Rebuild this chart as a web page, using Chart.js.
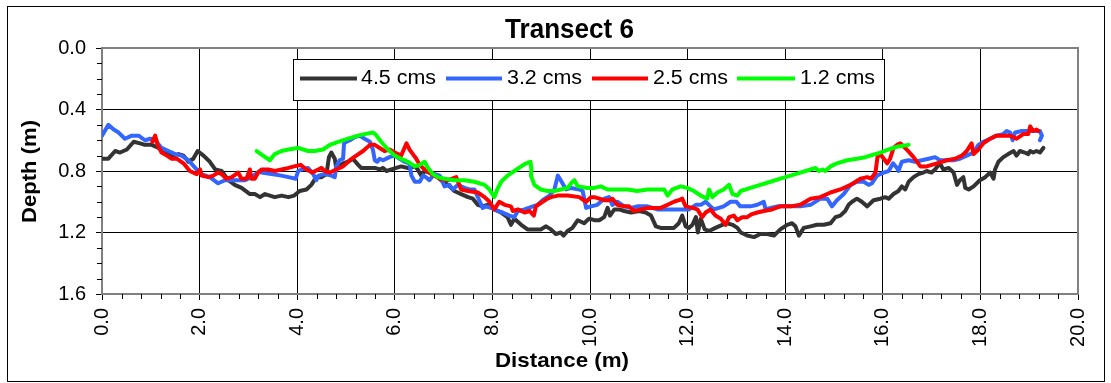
<!DOCTYPE html>
<html><head><meta charset="utf-8">
<script src="https://cdn.jsdelivr.net/npm/chart.js@4.4.1/dist/chart.umd.min.js"></script>
<style>html,body{margin:0;padding:0;background:#fff;}canvas{display:block;}</style>
</head><body>
<canvas id="c" width="1111" height="383"></canvas>
<script>
const chartTitle = 'Transect 6';
const xAxisTitle = 'Distance (m)';
const yAxisTitle = 'Depth (m)';
const seriesNames = ['4.5 cms', '3.2 cms', '2.5 cms', '1.2 cms'];
const seriesColors = ['#333333', '#3366FF', '#FF0000', '#00FF00'];

const dist45 = [
0.00,0.13,0.27,0.37,0.51,0.65,0.78,0.88,1.02,1.16,
1.29,1.43,1.57,1.67,1.77,1.87,1.96,2.08,2.21,2.32,
2.45,2.59,2.72,2.86,3.03,3.13,3.24,3.34,3.44,3.54,
3.68,3.82,3.94,4.05,4.19,4.29,4.39,4.50,4.60,4.65,
4.70,4.77,4.80,4.87,4.94,5.04,5.14,5.25,5.31,5.45,
5.59,5.69,5.76,5.83,5.93,6.03,6.13,6.27,6.41,6.47,
6.54,6.61,6.71,6.81,6.95,7.09,7.22,7.36,7.50,7.60,
7.70,7.80,7.90,8.04,8.18,8.31,8.38,8.45,8.59,8.72,
8.86,8.99,9.10,9.20,9.30,9.40,9.46,9.54,9.64,9.75,
9.88,9.98,10.09,10.19,10.29,10.36,10.41,10.50,10.60,10.70,
10.84,11.01,11.14,11.25,11.35,11.45,11.59,11.72,11.82,11.89,
11.96,12.03,12.10,12.17,12.21,12.27,12.35,12.44,12.57,12.71,
12.81,12.92,13.02,13.09,13.22,13.36,13.49,13.63,13.77,13.90,
14.04,14.14,14.21,14.28,14.38,14.52,14.65,14.79,14.93,15.03,
15.13,15.23,15.30,15.37,15.47,15.57,15.68,15.81,15.95,16.05,
16.12,16.22,16.32,16.39,16.46,16.53,16.63,16.73,16.83,16.90,
17.00,17.07,17.17,17.24,17.35,17.45,17.52,17.58,17.65,17.69,
17.76,17.86,17.99,18.10,18.20,18.27,18.30,18.37,18.47,18.57,
18.68,18.74,18.81,18.91,18.98,19.02,19.08,19.15,19.22,19.29];
const depth45 = [
0.72,0.72,0.67,0.68,0.66,0.61,0.62,0.63,0.63,0.65,
0.67,0.70,0.69,0.70,0.74,0.72,0.67,0.70,0.74,0.79,
0.80,0.86,0.89,0.91,0.95,0.95,0.97,0.95,0.96,0.97,
0.96,0.97,0.96,0.93,0.92,0.89,0.84,0.84,0.82,0.71,
0.68,0.72,0.78,0.77,0.75,0.74,0.72,0.76,0.78,0.78,
0.78,0.79,0.78,0.80,0.79,0.78,0.77,0.78,0.77,0.79,
0.83,0.80,0.81,0.82,0.86,0.89,0.93,0.95,0.97,0.98,
1.02,1.03,1.02,1.05,1.07,1.10,1.15,1.11,1.15,1.18,
1.18,1.18,1.16,1.18,1.21,1.20,1.22,1.19,1.17,1.12,
1.14,1.11,1.12,1.12,1.10,1.04,1.09,1.05,1.05,1.06,
1.07,1.06,1.07,1.09,1.16,1.17,1.17,1.17,1.14,1.09,
1.16,1.17,1.15,1.10,1.20,1.11,1.18,1.19,1.17,1.15,
1.14,1.15,1.17,1.20,1.22,1.23,1.21,1.21,1.22,1.18,
1.15,1.14,1.16,1.22,1.17,1.16,1.15,1.15,1.14,1.10,
1.09,1.06,1.02,1.00,0.98,1.00,1.03,0.99,0.98,0.97,
0.98,0.95,0.93,0.90,0.92,0.87,0.84,0.82,0.81,0.80,
0.81,0.79,0.75,0.79,0.78,0.81,0.89,0.86,0.84,0.91,
0.92,0.90,0.86,0.84,0.81,0.85,0.79,0.74,0.71,0.69,
0.67,0.70,0.67,0.68,0.69,0.67,0.68,0.67,0.68,0.65];

const dist32 = [
0.00,0.13,0.24,0.34,0.47,0.61,0.75,0.88,0.99,1.09,
1.22,1.36,1.50,1.63,1.77,1.91,2.04,2.21,2.38,2.52,
2.72,2.93,3.06,3.24,3.27,3.47,3.68,3.82,3.97,4.02,
4.09,4.22,4.33,4.39,4.44,4.56,4.70,4.77,4.80,4.87,
4.94,4.96,5.01,5.08,5.18,5.28,5.38,5.49,5.55,5.59,
5.64,5.69,5.76,5.89,6.00,6.10,6.20,6.30,6.34,6.41,
6.51,6.58,6.64,6.71,6.81,6.92,7.02,7.12,7.19,7.29,
7.43,7.53,7.63,7.73,7.80,7.87,7.97,8.11,8.21,8.35,
8.45,8.52,8.66,8.83,8.93,9.03,9.17,9.27,9.34,9.40,
9.51,9.61,9.78,9.85,9.92,10.02,10.15,10.29,10.39,10.46,
10.56,10.70,10.84,10.97,11.18,11.38,11.59,11.79,12.03,12.17,
12.27,12.37,12.47,12.54,12.64,12.74,12.88,13.00,13.08,13.29,
13.43,13.56,13.60,13.70,13.84,13.97,14.14,14.31,14.52,14.72,
14.86,14.96,15.06,15.20,15.34,15.47,15.61,15.71,15.78,15.88,
16.02,16.12,16.21,16.29,16.32,16.39,16.53,16.66,16.80,16.94,
17.07,17.17,17.31,17.45,17.58,17.72,17.86,17.96,18.06,18.20,
18.33,18.47,18.54,18.61,18.66,18.71,18.85,18.98,19.08,19.22,
19.26,19.22];
const depth32 = [
0.57,0.50,0.53,0.55,0.59,0.57,0.57,0.60,0.59,0.60,
0.65,0.67,0.69,0.70,0.73,0.78,0.82,0.84,0.88,0.86,
0.86,0.86,0.84,0.80,0.81,0.82,0.83,0.84,0.85,0.80,
0.79,0.78,0.82,0.86,0.83,0.82,0.83,0.84,0.77,0.73,
0.72,0.62,0.61,0.60,0.58,0.57,0.59,0.61,0.66,0.73,
0.74,0.72,0.73,0.71,0.70,0.72,0.74,0.75,0.83,0.87,
0.87,0.83,0.84,0.86,0.82,0.83,0.90,0.89,0.92,0.89,
0.91,0.92,0.92,0.99,1.04,1.03,1.04,1.06,1.07,1.09,
1.10,1.06,1.05,1.03,1.02,0.99,0.96,0.92,0.83,0.86,
0.92,0.91,0.92,0.93,1.04,1.03,1.02,0.98,0.97,1.02,
1.00,1.03,1.04,1.03,1.03,1.05,1.05,1.05,1.05,1.02,
1.02,1.00,1.03,1.05,1.04,1.03,1.00,1.00,1.03,1.03,
1.02,1.00,1.05,1.04,1.03,1.03,1.03,1.03,1.02,0.98,
0.98,1.03,0.99,0.95,0.89,0.87,0.87,0.89,0.88,0.83,
0.81,0.80,0.75,0.78,0.80,0.74,0.73,0.74,0.73,0.72,
0.71,0.73,0.73,0.73,0.72,0.70,0.68,0.63,0.61,0.59,
0.57,0.56,0.54,0.55,0.60,0.55,0.54,0.54,0.54,0.54,
0.57,0.60];

const dist25 = [
1.03,1.09,1.14,1.22,1.33,1.43,1.53,1.67,1.80,1.94,
2.01,2.04,2.18,2.28,2.38,2.45,2.55,2.66,2.79,2.86,
2.96,3.03,3.06,3.13,3.20,3.27,3.41,3.54,3.68,3.82,
3.94,4.07,4.19,4.31,4.43,4.50,4.56,4.67,4.80,4.94,
5.08,5.21,5.35,5.49,5.59,5.69,5.79,5.89,6.00,6.13,
6.24,6.30,6.37,6.44,6.51,6.61,6.75,6.92,7.09,7.26,
7.36,7.50,7.70,7.84,7.94,8.04,8.14,8.25,8.38,8.42,
8.52,8.66,8.76,8.85,8.89,9.03,9.13,9.20,9.34,9.54,
9.78,9.92,10.02,10.09,10.19,10.29,10.39,10.46,10.56,10.70,
10.80,10.90,11.04,11.18,11.31,11.45,11.59,11.72,11.82,11.89,
11.96,12.10,12.20,12.30,12.37,12.47,12.57,12.68,12.78,12.85,
12.95,13.02,13.12,13.22,13.32,13.43,13.56,13.73,13.90,14.11,
14.31,14.52,14.72,14.93,15.13,15.34,15.54,15.68,15.76,15.85,
15.89,15.95,16.02,16.09,16.15,16.22,16.29,16.36,16.49,16.63,
16.77,16.90,17.11,17.31,17.48,17.62,17.72,17.82,17.86,17.96,
18.06,18.20,18.33,18.47,18.61,18.74,18.88,18.98,19.02,19.08,
19.15,19.19];
const depth25 = [
0.61,0.57,0.63,0.68,0.70,0.72,0.72,0.75,0.80,0.82,
0.79,0.83,0.84,0.83,0.81,0.82,0.85,0.84,0.81,0.85,
0.85,0.79,0.85,0.85,0.81,0.79,0.79,0.80,0.79,0.78,
0.77,0.76,0.79,0.81,0.79,0.78,0.80,0.81,0.79,0.77,
0.73,0.70,0.67,0.63,0.63,0.65,0.67,0.66,0.68,0.70,
0.62,0.66,0.69,0.72,0.76,0.79,0.82,0.85,0.86,0.84,
0.92,0.93,0.94,0.97,1.00,1.05,1.00,1.02,1.03,1.06,
1.05,1.07,1.06,1.09,1.03,1.00,0.98,0.97,0.96,0.96,
0.97,1.00,0.97,0.97,0.98,0.99,0.99,0.98,1.02,1.03,
1.03,1.06,1.05,1.04,1.04,1.04,1.02,1.00,0.99,0.98,
1.03,1.04,1.05,1.10,1.07,1.05,1.09,1.11,1.15,1.10,
1.09,1.12,1.10,1.10,1.08,1.07,1.06,1.05,1.03,1.03,
1.02,0.98,0.97,0.94,0.92,0.89,0.85,0.84,0.85,0.81,
0.71,0.69,0.72,0.75,0.72,0.65,0.63,0.62,0.66,0.71,
0.77,0.77,0.75,0.73,0.72,0.70,0.67,0.62,0.69,0.66,
0.62,0.59,0.57,0.57,0.57,0.59,0.56,0.56,0.51,0.54,
0.53,0.54];

const dist12 = [
3.17,3.30,3.44,3.54,3.68,3.82,4.02,4.22,4.36,4.53,
4.67,4.84,5.04,5.25,5.38,5.55,5.60,5.72,5.86,6.00,
6.13,6.27,6.41,6.51,6.61,6.68,6.78,6.88,7.02,7.22,
7.43,7.63,7.84,7.94,8.04,8.10,8.18,8.31,8.45,8.59,
8.69,8.78,8.80,8.79,8.86,8.99,9.13,9.27,9.40,9.54,
9.64,9.68,9.75,9.95,10.09,10.22,10.36,10.56,10.77,10.97,
11.18,11.38,11.52,11.59,11.69,11.86,11.99,12.13,12.27,12.40,
12.44,12.51,12.61,12.74,12.85,12.92,13.02,13.09,13.29,13.49,
13.70,13.90,14.11,14.31,14.52,14.62,14.69,14.76,14.82,14.93,
15.06,15.27,15.47,15.64,15.74,15.95,16.12,16.32,16.53];
const depth12 = [
0.67,0.70,0.73,0.69,0.67,0.66,0.65,0.67,0.67,0.66,
0.63,0.61,0.59,0.57,0.56,0.55,0.56,0.61,0.66,0.70,
0.72,0.74,0.77,0.76,0.74,0.78,0.82,0.84,0.85,0.86,
0.86,0.87,0.89,0.92,0.97,0.92,0.87,0.83,0.80,0.77,
0.75,0.74,0.79,0.83,0.89,0.92,0.93,0.93,0.92,0.91,
0.87,0.86,0.90,0.91,0.91,0.90,0.92,0.92,0.92,0.93,
0.92,0.92,0.92,0.96,0.92,0.90,0.91,0.93,0.96,0.98,
0.92,0.97,0.94,0.92,0.89,0.95,0.96,0.93,0.91,0.89,
0.87,0.85,0.83,0.81,0.79,0.78,0.80,0.79,0.80,0.77,
0.75,0.73,0.72,0.71,0.70,0.68,0.66,0.64,0.63];

const xTickStep = 2;
const yTickStep = 0.4;

function pts(xs, ys) { return xs.map((x, i) => ({ x: x, y: ys[i] })); }
const seriesData = [pts(dist45, depth45), pts(dist32, depth32), pts(dist25, depth25), pts(dist12, depth12)];

const FONT = "'Liberation Sans', Arial, sans-serif";

function fitText(ctx, text, x, y, font, targetW, rot, align) {
  ctx.save();
  ctx.font = font;
  const w = ctx.measureText(text).width;
  ctx.translate(x, y);
  if (rot) ctx.rotate(rot);
  ctx.scale(targetW / w, 1);
  ctx.textAlign = align || 'center';
  ctx.textBaseline = 'alphabetic';
  ctx.fillStyle = '#000';
  ctx.fillText(text, 0, 0);
  ctx.restore();
}

const decor = {
  id: 'decor',
  beforeDraw(chart) {
    const c = chart.ctx;
    c.save();
    c.fillStyle = '#fff';
    c.fillRect(0, 0, chart.width, chart.height);
    c.strokeStyle = '#000';
    c.lineWidth = 1;
    c.strokeRect(7.5, 6.5, 1097, 375);
    c.restore();
  },
  afterDraw(chart) {
    const { ctx, chartArea: a, scales: { x, y } } = chart;
    ctx.save();
    ctx.strokeStyle = '#808080';
    ctx.lineWidth = 2;
    ctx.beginPath();
    ctx.moveTo(a.left, a.top); ctx.lineTo(a.right, a.top); ctx.lineTo(a.right, a.bottom);
    ctx.stroke();
    ctx.strokeStyle = '#000';
    ctx.lineWidth = 1;
    ctx.beginPath();
    for (let i = 1; i < 16; i++) {
      if (i % 4 === 0) continue;
      const py = Math.round(y.getPixelForValue(i * 0.1)) + 0.5;
      ctx.moveTo(a.left - 5, py); ctx.lineTo(a.left, py);
    }
    for (let i = 1; i < 50; i++) {
      if (i % 5 === 0) continue;
      const px = Math.round(x.getPixelForValue(i * 0.4)) + 0.5;
      ctx.moveTo(px, a.bottom); ctx.lineTo(px, a.bottom + 5);
    }
    ctx.stroke();
    fitText(ctx, chartTitle, 569.5, 38, "bold 28px 'Liberation Sans Narrow', " + FONT, 129);
    fitText(ctx, xAxisTitle, 562, 367, "bold 21px " + FONT, 134);
    fitText(ctx, yAxisTitle, 36, 171.5, "bold 21px " + FONT, 103, -Math.PI / 2);
    ctx.fillStyle = '#fff';
    ctx.fillRect(293, 59, 592, 41);
    ctx.strokeStyle = '#000';
    ctx.lineWidth = 1;
    ctx.strokeRect(293.5, 59.5, 591, 41);
    const samples = [[300, 357], [446, 502], [592, 648], [737, 795]];
    const textX = [361, 507, 653, 800];
    for (let i = 0; i < 4; i++) {
      ctx.strokeStyle = seriesColors[i];
      ctx.lineWidth = 4;
      ctx.beginPath();
      ctx.moveTo(samples[i][0], 78.5); ctx.lineTo(samples[i][1], 78.5);
      ctx.stroke();
      fitText(ctx, seriesNames[i], textX[i], 84, "20px " + FONT, 75, 0, 'left');
    }
    ctx.restore();
  }
};

const edgeColor = (min, max) => (ctx) => {
  const v = ctx.tick ? ctx.tick.value : null;
  if (v === null) return '#000';
  if (Math.abs(v - min) < 1e-6 || Math.abs(v - max) < 1e-6) return 'rgba(0,0,0,0)';
  return '#000';
};

new Chart(document.getElementById('c'), {
  type: 'scatter',
  data: {
    datasets: seriesNames.map((name, i) => ({
      label: name,
      data: seriesData[i],
      showLine: true,
      borderColor: seriesColors[i],
      backgroundColor: seriesColors[i],
      borderWidth: 4,
      pointRadius: 0,
      pointHoverRadius: 0,
      tension: 0,
      borderJoinStyle: 'round',
      borderCapStyle: 'round',
      order: 3 - i
    }))
  },
  options: {
    responsive: false,
    maintainAspectRatio: false,
    animation: false,
    devicePixelRatio: 1,
    layout: { padding: { top: 48, right: 33, left: 0, bottom: 0 } },
    plugins: { legend: { display: false }, tooltip: { enabled: false }, title: { display: false } },
    scales: {
      x: {
        type: 'linear', min: 0, max: 20,
        afterFit: (s) => { s.height = 89; },
        ticks: {
          stepSize: xTickStep, minRotation: 90, maxRotation: 90, padding: 8,
          color: '#000', font: { family: FONT, size: 20 },
          callback: (v) => Number(v).toFixed(1)
        },
        grid: { color: edgeColor(0, 20), tickColor: '#000', tickLength: 6, lineWidth: 1, drawTicks: true },
        border: { display: true, color: '#808080', width: 2 }
      },
      y: {
        type: 'linear', min: 0, max: 1.6, reverse: true,
        afterFit: (s) => { s.width = 102; },
        ticks: {
          stepSize: yTickStep, padding: 10,
          color: '#000', font: { family: FONT, size: 20 },
          callback: (v) => Number(v).toFixed(1)
        },
        grid: { color: edgeColor(0, 1.6), tickColor: '#000', tickLength: 6, lineWidth: 1, drawTicks: true },
        border: { display: true, color: '#808080', width: 2 }
      }
    }
  },
  plugins: [decor]
});
</script>
</body></html>
